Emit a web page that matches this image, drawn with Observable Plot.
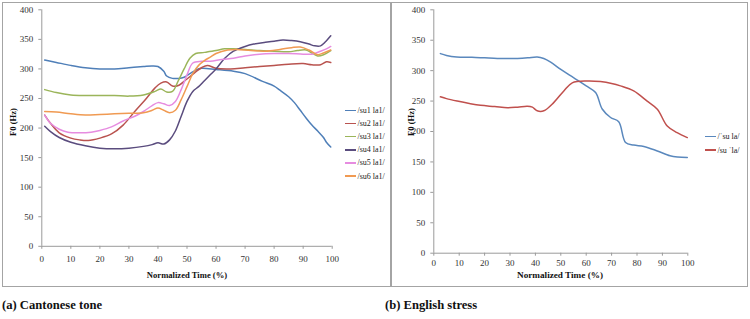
<!DOCTYPE html>
<html><head><meta charset="utf-8">
<script src="https://cdn.jsdelivr.net/npm/d3@7"></script>
<script src="https://cdn.jsdelivr.net/npm/@observablehq/plot@0.6"></script>
<style>
html,body{margin:0;padding:0;background:#fff;}
body{width:750px;height:319px;overflow:hidden;position:relative;font-family:"Liberation Serif","Times New Roman",Times,"DejaVu Serif",serif;color:#222;}
.abs{position:absolute;}
.frame{position:absolute;left:2px;top:2px;width:746px;height:285px;border:1.5px solid #a4a4a4;box-sizing:border-box;}
.divider{position:absolute;left:390px;top:2px;width:1.5px;height:285px;background:#a4a4a4;}
.ctr{position:absolute;transform:translate(-50%,-50%);white-space:nowrap;font-weight:bold;font-size:8.6px;color:#111;}
.rot{transform:translate(-50%,-50%) rotate(-90deg);}
.cap{position:absolute;font-weight:bold;font-size:12.6px;color:#111;white-space:nowrap;}
.leg{position:absolute;font-size:8px;white-space:nowrap;color:#222;display:flex;align-items:center;}
.leg span.sw{display:inline-block;width:11px;height:1.6px;margin-right:1.5px;}
svg text{font-family:"Liberation Serif","Times New Roman",Times,"DejaVu Serif",serif;}
</style></head><body>
<div id="left" class="abs" style="left:0;top:0"></div>
<div id="right" class="abs" style="left:391px;top:0"></div>
<div class="frame"></div>
<div class="divider"></div>
<script>
// ---- shared ticks ----
const xTicks = [0,10,20,30,40,50,60,70,80,90,100];
const yTicks = [0,50,100,150,200,250,300,350,400];

// ---- (a) Cantonese tone ----
const namesA = ["/su1 la1/","/su2 la1/","/su3 la1/","/su4 la1/","/su5 la1/","/su6 la1/"];
const colorsA = ["#4f7fb8","#b9534f","#9bb55a","#5a4c7e","#e68ce0","#f09a52"];
const su1T = [1,5,10,15,20,25,30,35,38,40,42,43,45,47,49,51,53,55,60,66,70,76,80,82,85,87,89,91,93,95,97,98,99.5];
const su1F = [315,311,306,302,300,300,302,304,305,304,296,288,284,284,286,292,298,301,299,296,292,279,271,264,253,243,230,217,205,195,184,176,168];
const su2T = [1,3,6,10,13,16,20,24,28,32,36,39,41,43,45,47,50,53,55,57,60,65,70,75,80,85,90,93,96,98,99.5];
const su2F = [222,208,192,183,180,179,183,190,205,228,250,268,276,278,271,272,283,295,302,306,301,300,302,304,306,308,309,307,307,312,311];
const su3T = [1,5,10,15,20,25,30,35,39,41,43,45,47,49,51,53,56,60,63,66,70,75,80,85,88,91,93,95,97,99.5];
const su3F = [265,260,256,255,255,255,254,256,262,266,261,262,280,300,318,326,328,331,334,334,333,331,330,329,331,332,327,322,324,331];
const su4T = [1,3,6,10,15,20,25,30,35,38,40,42,44,46,48,50,52,54,56,58,60,63,66,70,73,77,80,83,86,89,92,94,96,97.5,99.5];
const su4F = [203,194,184,176,170,166,165,166,169,172,175,173,180,195,220,245,262,270,280,290,300,318,330,338,342,345,347,349,348,346,342,339,339,345,356];
const su5T = [1,3,6,9,13,17,20,24,28,32,35,38,40,42,44,46,48,50,52,55,58,62,66,70,75,80,85,90,93,96,98,99.5];
const su5F = [222,208,198,193,192,193,196,202,212,220,228,238,243,241,238,245,265,290,310,313,313,316,318,322,325,326,326,325,325,330,334,338];
const su6T = [1,5,10,15,20,25,30,35,38,40,42,44,46,48,50,52,54,56,58,60,64,67,72,77,82,86,89,92,95,97,99.5];
const su6F = [228,227,224,222,223,224,225,226,230,234,230,226,230,248,270,292,306,314,320,326,332,333,331,330,333,336,337,332,324,327,332];

// ---- (b) English stress ----
const namesB = ["/\u02c8su la/","/su \u02c8la/"];
const colorsB = ["#5a88bd","#c0504d"];
const stress1T = [2.6,5,9,15,20,25,29,33,37,40.7,43.3,46,50,55,60,63.7,66.3,69.6,72.8,75.5,78.7,82.7,88,93,96,99.8];
const stress1F = [328,325,322.5,322,321,320,320,320,321,322.5,320,314,302,288.5,275,264,237,223,216,182,177.7,175.5,168,160,158,157.4];
const stress2T = [2.6,5,9.2,14,18.4,24,29,33,36.8,38.8,40.7,43.3,47.2,51.2,54.5,60.4,65.6,70,73.5,78.7,84,88,91.9,95.8,99.8];
const stress2F = [257,254,250,246,243,241,239,240,241.6,240,234,234,247.5,266.7,280,283,282,279,275,266.7,250,236.7,209,198,190];

function rows(name, T, F){ return T.map((t,i)=>({t, f:F[i], k:name})); }
const dataA = [
  ...rows(namesA[0], su1T, su1F), ...rows(namesA[1], su2T, su2F), ...rows(namesA[2], su3T, su3F),
  ...rows(namesA[3], su4T, su4F), ...rows(namesA[4], su5T, su5F), ...rows(namesA[5], su6T, su6F)
];
const dataB = [...rows(namesB[0], stress1T, stress1F), ...rows(namesB[1], stress2T, stress2F)];

const serif = "'Liberation Serif', 'Times New Roman', Times, 'DejaVu Serif', serif";
function chart(data, names, colors, o){
  return Plot.plot({
    width:o.width, height:290,
    marginLeft:o.ml, marginRight:o.mr, marginTop:o.mt, marginBottom:o.mb,
    x:{domain:[0,100], label:null},
    y:{domain:[0,400], label:null},
    color:{domain:names, range:colors},
    style:{fontFamily:serif, fontSize:"9px", color:"#333", background:"transparent", overflow:"visible"},
    marks:[
      Plot.axisX({ticks:xTicks, tickSize:3, tickPadding:o.xpad, stroke:"#9a9a9a", fill:"#333", label:null}),
      Plot.axisY({ticks:yTicks, tickSize:3, tickPadding:5.5, stroke:"#9a9a9a", fill:"#333", label:null}),
      Plot.ruleY([0], {stroke:"#9a9a9a", strokeWidth:1}),
      Plot.ruleX([0], {stroke:"#9a9a9a", strokeWidth:1}),
      Plot.line(data, {x:"t", y:"f", z:"k", stroke:"k", strokeWidth:1.5, curve:"catmull-rom"})
    ]
  });
}

document.getElementById("left").append(chart(dataA, namesA, colorsA, {width:391, ml:41.3, mr:59.3, mt:9.3, mb:44.2, xpad:6.5}));
document.getElementById("right").append(chart(dataB, namesB, colorsB, {width:357, ml:42.3, mr:60.7, mt:9.3, mb:37.3, xpad:3.5}));

// titles and legends
function addDiv(cls, html, style){ const d=document.createElement("div"); d.className=cls; d.innerHTML=html; Object.assign(d.style, style); document.body.append(d); return d; }
addDiv("ctr rot", "F0 (Hz)", {left:"13px", top:"122px"});
addDiv("ctr", "Normalized Time (%)", {left:"187px", top:"275px"});
addDiv("ctr rot", "F0 (Hz)", {left:"411px", top:"122px"});
addDiv("ctr", "Normalized Time (%)", {left:"560px", top:"275px", fontSize:"9.2px"});
addDiv("cap", "(a) Cantonese tone", {left:"2px", top:"298px"});
addDiv("cap", "(b) English stress", {left:"385px", top:"298px"});

namesA.forEach((n,i)=>{
  addDiv("leg", `<span class="sw" style="background:${colorsA[i]}"></span>${n}`, {left:"345px", top:(106 + i*13.1)+"px"});
});
namesB.forEach((n,i)=>{
  addDiv("leg", `<span class="sw" style="background:${colorsB[i]}"></span>${n}`, {left:"705px", top:(132 + i*13.7)+"px"});
});
</script>
</body></html>
